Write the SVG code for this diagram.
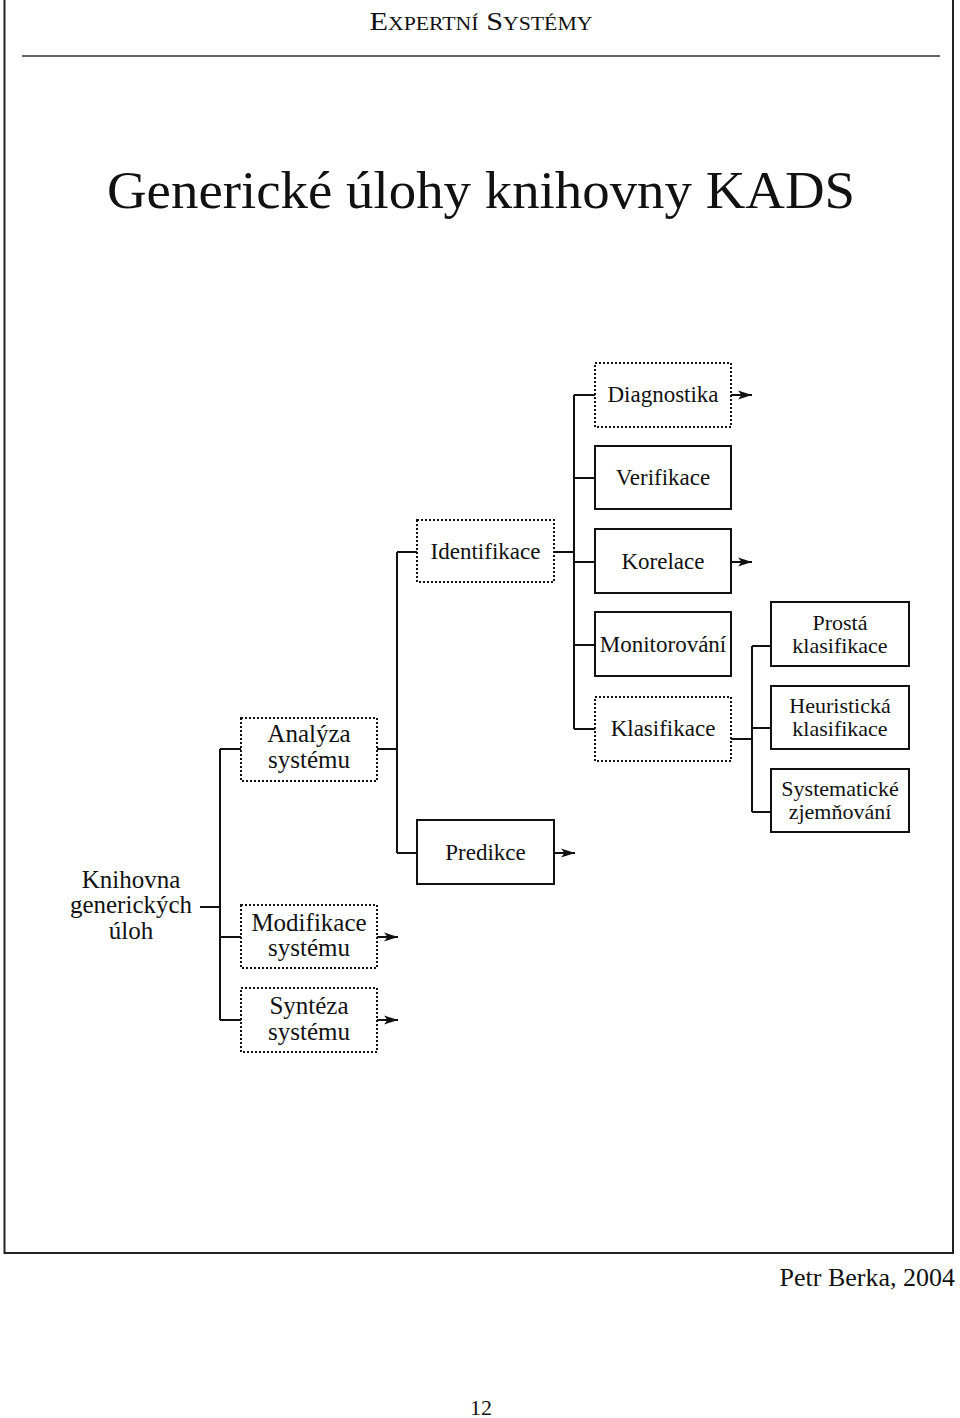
<svg xmlns="http://www.w3.org/2000/svg" width="960" height="1418" viewBox="0 0 960 1418">
<style>
  text { font-family: "Liberation Serif", "Times New Roman", serif; fill: #111; text-anchor: middle; }
  .box { fill: #fff; stroke: #111; stroke-width: 2; }
  .dot { fill: #fff; stroke: #111; stroke-width: 2; stroke-dasharray: 2 2; }
  .c { fill: none; stroke: #111; stroke-width: 2; }
  .t { font-size: 23px; }
  .t2 { font-size: 22px; }
  .tl { font-size: 25px; }
</style>
<defs>
  <marker id="ah" markerUnits="userSpaceOnUse" markerWidth="18" markerHeight="14" refX="14" refY="7" orient="auto">
    <path d="M0,2.5 L14,7 L0,11.5 L3.5,7 Z" fill="#111"/>
  </marker>
</defs>
<rect width="960" height="1418" fill="#fff"/>
<g id="page">
  <path d="M4.5,0 V1253 H953 V0" fill="none" stroke="#222" stroke-width="2"/>
  <text x="481" y="30" font-size="25" font-variant="small-caps" textLength="223" lengthAdjust="spacingAndGlyphs">Expertní Systémy</text>
  <line x1="22" y1="56" x2="940" y2="56" stroke="#333" stroke-width="1.5"/>
  <text x="481" y="208" font-size="52" textLength="748" lengthAdjust="spacingAndGlyphs">Generické úlohy knihovny KADS</text>
  <text x="955" y="1286" font-size="26" style="text-anchor:end">Petr Berka, 2004</text>
  <text x="481" y="1415" font-size="22">12</text>
</g>
<g id="connectors">
  <path class="c" d="M200,907 H220 M220,749 V1020 M220,749 H241 M220,937 H241 M220,1020 H241"/>
  <path class="c" d="M377,749 H397 M397,552 V853 M397,552 H417 M397,853 H417"/>
  <path class="c" d="M554,552 H574 M574,395 V729 M574,395 H595 M574,478 H595 M574,562 H595 M574,645 H595 M574,729 H595"/>
  <path class="c" d="M731,739 H752 M752,646 V812 M752,646 H771 M752,728 H771 M752,812 H771"/>
  <line class="c" x1="731" y1="395" x2="752" y2="395" marker-end="url(#ah)"/>
  <line class="c" x1="731" y1="562" x2="752" y2="562" marker-end="url(#ah)"/>
  <line class="c" x1="554" y1="853" x2="575" y2="853" marker-end="url(#ah)"/>
  <line class="c" x1="377" y1="937" x2="398" y2="937" marker-end="url(#ah)"/>
  <line class="c" x1="377" y1="1020" x2="398" y2="1020" marker-end="url(#ah)"/>
</g>
<g id="knihovna">
  <text class="tl" x="131" y="888"><tspan x="131">Knihovna</tspan><tspan x="131" dy="25">generických</tspan><tspan x="131" dy="26">úloh</tspan></text>
</g>
<g id="analyza">
  <rect class="dot" x="241" y="718" width="136" height="63"/>
  <text class="tl" x="309" y="742"><tspan x="309">Analýza</tspan><tspan x="309" dy="26">systému</tspan></text>
</g>
<g id="modifikace">
  <rect class="dot" x="241" y="905" width="136" height="63"/>
  <text class="tl" x="309" y="931"><tspan x="309">Modifikace</tspan><tspan x="309" dy="25">systému</tspan></text>
</g>
<g id="synteza">
  <rect class="dot" x="241" y="988" width="136" height="64"/>
  <text class="tl" x="309" y="1014"><tspan x="309">Syntéza</tspan><tspan x="309" dy="26">systému</tspan></text>
</g>
<g id="identifikace">
  <rect class="dot" x="417" y="520" width="137" height="62"/>
  <text class="t" x="485.5" y="559">Identifikace</text>
</g>
<g id="predikce">
  <rect class="box" x="417" y="820" width="137" height="64"/>
  <text class="t" x="485.5" y="860">Predikce</text>
</g>
<g id="diagnostika">
  <rect class="dot" x="595" y="363" width="136" height="64"/>
  <text class="t" x="663" y="402">Diagnostika</text>
</g>
<g id="verifikace">
  <rect class="box" x="595" y="446" width="136" height="63"/>
  <text class="t" x="663" y="485">Verifikace</text>
</g>
<g id="korelace">
  <rect class="box" x="595" y="529" width="136" height="64"/>
  <text class="t" x="663" y="569">Korelace</text>
</g>
<g id="monitorovani">
  <rect class="box" x="595" y="612" width="136" height="64"/>
  <text class="t" x="663" y="652">Monitorování</text>
</g>
<g id="klasifikace">
  <rect class="dot" x="595" y="697" width="136" height="64"/>
  <text class="t" x="663" y="736">Klasifikace</text>
</g>
<g id="prosta">
  <rect class="box" x="771" y="602" width="138" height="64"/>
  <text class="t2" x="840" y="630"><tspan x="840">Prostá</tspan><tspan x="840" dy="23">klasifikace</tspan></text>
</g>
<g id="heuristicka">
  <rect class="box" x="771" y="686" width="138" height="63"/>
  <text class="t2" x="840" y="713"><tspan x="840">Heuristická</tspan><tspan x="840" dy="23">klasifikace</tspan></text>
</g>
<g id="systematicke">
  <rect class="box" x="771" y="769" width="138" height="63"/>
  <text class="t2" x="840" y="796"><tspan x="840">Systematické</tspan><tspan x="840" dy="23">zjemňování</tspan></text>
</g>
</svg>
